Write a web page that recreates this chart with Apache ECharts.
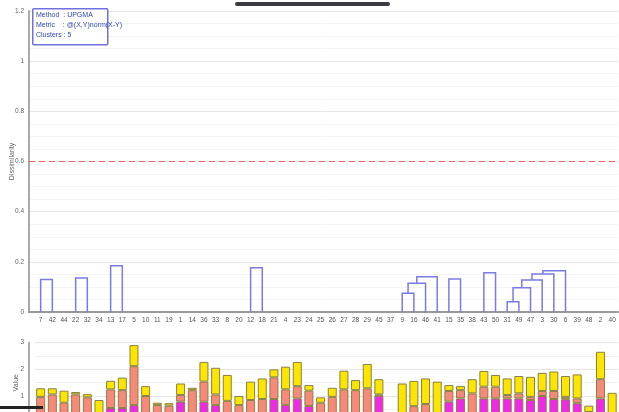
<!DOCTYPE html>
<html><head><meta charset="utf-8">
<script src="https://cdn.jsdelivr.net/npm/echarts@6/dist/echarts.min.js"></script>
<style>html,body{margin:0;padding:0;overflow:hidden;background:#fff;width:619px;height:412px}#c{width:619px;height:440px}</style>
</head><body><div id="c"></div>
<script>
// ---- data ----
const leafLabels = ['7','42','44','22','32','34','13','17','5','10','11','19','1','14','36','33','8','20','12','18','21','4','23','24','25','26','27','28','29','45','37','9','16','46','41','15','35','38','43','50','31','49','47','3','30','6','39','48','2','40'];
// merges: [left, right, height]; '#k' refers to merge k
const merges = [
  ['7','42',0.130],
  ['22','32',0.136],
  ['13','17',0.184],
  ['12','18',0.176],
  ['9','16',0.075],
  ['#4','46',0.115],
  ['#5','41',0.141],
  ['15','35',0.132],
  ['43','50',0.156],
  ['31','49',0.041],
  ['#9','47',0.097],
  ['#10','3',0.128],
  ['#11','30',0.151],
  ['#12','6',0.164]
];
const cutLevel = 0.6;
const magentaVals = [0.3,0.3,0.35,0.3,0.3,0.2,0.55,0.55,0.66,0.3,0.3,0.3,0.79,0.3,0.79,0.66,0.3,0.3,0.3,0.3,0.89,0.67,0.91,0.63,0.3,0.3,0.3,0.3,0.3,1.01,null,0.2,0.3,0.3,0.2,0.79,0.91,0.3,0.91,0.91,0.91,0.91,0.85,1.0,0.89,0.88,0.73,0.2,0.91,0.2];
const salmonVals  = [0.67,0.76,0.40,0.76,0.65,0.10,0.70,0.67,1.46,0.70,0.36,0.34,0.25,0.92,0.75,0.40,0.52,0.36,0.55,0.59,0.81,0.58,0.46,0.57,0.45,0.67,0.95,0.92,0.99,0.05,null,0.10,0.32,0.40,0.15,0.40,0.31,0.80,0.44,0.44,0.13,0.19,0.12,0.19,0.30,0.09,0.18,0.20,0.72,0.15];
const yellowVals  = [0.32,0.23,0.45,0.09,0.12,0.55,0.32,0.47,0.79,0.37,0.09,0.09,0.43,0.09,0.74,1.00,0.97,0.34,0.69,0.77,0.30,0.85,0.91,0.21,0.20,0.34,0.70,0.38,0.91,0.57,null,1.17,0.95,0.96,1.19,0.22,0.15,0.53,0.59,0.44,0.62,0.65,0.75,0.68,0.73,0.78,0.90,0.24,1.03,0.77];
const infoLines = ['Method  : UPGMA','Metric    : @(X,Y)norm(X-Y)','Clusters : 5'];

// ---- build dendrogram links ----
const nodePos = [];
function resolve(ref){
  if (ref[0] === '#') return nodePos[+ref.slice(1)];
  return {x: leafLabels.indexOf(ref), h: 0};
}
const links = merges.map((m, i) => {
  const a = resolve(m[0]), b = resolve(m[1]);
  nodePos[i] = {x: (a.x + b.x) / 2, h: m[2]};
  return [a.x, a.h, b.x, b.h, m[2]];
});

const lineCol = '#7b7be6';
const font = 'Liberation Sans, Arial, sans-serif';
const chart = echarts.init(document.getElementById('c'), null, {renderer:'canvas'});
const segStyle = c => ({color:c, borderColor:'#8a8040', borderWidth:1});
const leafFmt = v => (Number.isInteger(v) && v >= 0 && v < leafLabels.length) ? leafLabels[v] : '';
const plotL = 29, plotR = 1, band = (619 - plotL - plotR) / 50.5;
chart.setOption({
  animation:false,
  textStyle:{fontFamily:font},
  grid:[
    {left:plotL, right:plotR, top:11, height:301, outerBoundsMode:'none', containLabel:false},
    {left:plotL + band / 2, right:plotR, top:342.7, height:80, outerBoundsMode:'none', containLabel:false}
  ],
  xAxis:[
    {type:'value', gridIndex:0, min:-1, max:49.5, interval:1,
     axisLine:{onZero:false, lineStyle:{color:'#999', width:2}}, axisTick:{show:false},
     axisLabel:{fontSize:6.5, color:'#555', margin:5, formatter:leafFmt, showMinLabel:false, showMaxLabel:false},
     splitLine:{show:false}},
    {type:'category', gridIndex:1, data:leafLabels, show:false}
  ],
  yAxis:[
    {type:'value', gridIndex:0, min:0, max:1.2, interval:0.2,
     name:'Dissimilarity', nameLocation:'middle', nameGap:13, nameMoveOverlap:false,
     nameTextStyle:{fontSize:7, color:'#666'},
     axisLine:{show:true, onZero:false, lineStyle:{color:'#aaa', width:2}}, axisTick:{show:false},
     axisLabel:{fontSize:6.5, color:'#666', margin:5},
     splitLine:{lineStyle:{color:'#e6e6e6'}},
     minorTick:{show:false, splitNumber:4}, minorSplitLine:{show:true, lineStyle:{color:'#f4f4f4'}}},
    {type:'value', gridIndex:1, min:0, max:3, interval:1, offset:band / 2,
     name:'Value', nameLocation:'middle', nameGap:9, nameMoveOverlap:false,
     nameTextStyle:{fontSize:7, color:'#666'},
     axisLine:{show:true, onZero:false, lineStyle:{color:'#aaa', width:2}}, axisTick:{show:false},
     axisLabel:{fontSize:6.5, color:'#666', margin:5},
     splitLine:{lineStyle:{color:'#e6e6e6'}},
     minorTick:{show:false, splitNumber:2}, minorSplitLine:{show:true, lineStyle:{color:'#f0f0f0'}}}
  ],
  series:[
    {type:'custom', xAxisIndex:0, yAxisIndex:0, data:links,
     encode:{x:[0,2], y:[1,3,4]},
     renderItem:function(params, api){
       const xl=api.value(0), hl=api.value(1), xr=api.value(2), hr=api.value(3), h=api.value(4);
       const pts=[api.coord([xl,hl]), api.coord([xl,h]), api.coord([xr,h]), api.coord([xr,hr])];
       return {type:'polyline', shape:{points:pts}, style:{stroke:lineCol, fill:'none', lineWidth:1.5}};
     },
     markLine:{silent:true, symbol:'none', label:{show:false},
       lineStyle:{color:'#f06060', type:[6,4], width:1.2},
       data:[{yAxis:cutLevel}]}
    },
    {type:'bar', name:'A', xAxisIndex:1, yAxisIndex:1, stack:'s', barWidth:9, data:magentaVals, itemStyle:segStyle('#f028e8')},
    {type:'bar', name:'B', xAxisIndex:1, yAxisIndex:1, stack:'s', barWidth:9, data:salmonVals, itemStyle:segStyle('#f7897b')},
    {type:'bar', name:'C', xAxisIndex:1, yAxisIndex:1, stack:'s', barWidth:9, data:yellowVals, itemStyle:segStyle('#fce600')}
  ],
  graphic:[
    {type:'rect', left:32, top:8, shape:{width:75, height:36, r:1}, style:{fill:'#fff', stroke:'#7070e0', lineWidth:1.5}, z:100},
    {type:'text', left:36, top:12, style:{text:infoLines[0], fontSize:7, fill:'#3048b0', fontFamily:font}, z:101},
    {type:'text', left:36, top:22, style:{text:infoLines[1], fontSize:7, fill:'#3048b0', fontFamily:font}, z:101},
    {type:'text', left:36, top:32, style:{text:infoLines[2], fontSize:7, fill:'#3048b0', fontFamily:font}, z:101},
    {type:'rect', left:235, top:2, shape:{width:155, height:4, r:2}, style:{fill:'#3a3a40'}, z:100},
    {type:'rect', left:0, top:406, shape:{width:43, height:3}, style:{fill:'#222'}, z:100}
  ]
});
</script></body></html>
